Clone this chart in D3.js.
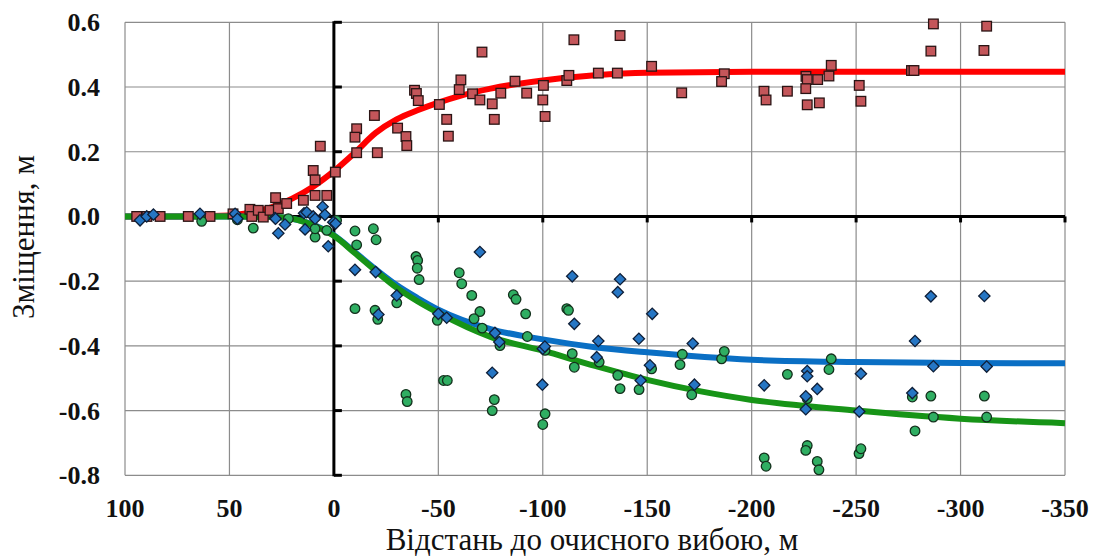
<!DOCTYPE html>
<html>
<head>
<meta charset="utf-8">
<script src="https://cdn.jsdelivr.net/npm/d3@7"></script>
<style>
  body { margin: 0; background: #fff; }
  svg { display: block; }
</style>
</head>
<body>
<svg id="chart"></svg>
<script>
const width = 1094
const height = 556
const serif = "'Liberation Serif', 'Times New Roman', 'DejaVu Serif', serif"

// tick values
const xTicks = [100, 50, 0, -50, -100, -150, -200, -250, -300, -350]
const yTicks = [-0.8, -0.6, -0.4, -0.2, 0.0, 0.2, 0.4, 0.6]

// measured points [distance, displacement]
const redPoints = [[94.4,0.0],[89.5,0.0],[83.2,0.0],[69.7,0.0],[59.3,0.0],[48.3,0.008],[40.2,0.022],[39.3,0.0],[36.2,0.019],[33.8,-0.002],[30.6,0.019],[27.9,0.058],[26.6,0.024],[22.6,0.04],[14.6,0.05],[9.9,0.142],[9.0,0.113],[9.0,0.065],[3.4,0.065],[6.5,0.217],[-0.7,0.137],[-10.9,0.271],[-10.1,0.245],[-10.9,0.197],[-19.4,0.312],[-20.8,0.197],[-30.5,0.273],[-34.5,0.247],[-34.9,0.219],[-38.6,0.39],[-39.5,0.38],[-40.4,0.358],[-50.5,0.346],[-54,0.30],[-54.8,0.248],[-60.8,0.422],[-60.0,0.392],[-66.4,0.379],[-69.9,0.36],[-70.9,0.508],[-75.8,0.348],[-76.8,0.30],[-79.9,0.381],[-86.7,0.418],[-92.3,0.381],[-100.3,0.405],[-100,0.36],[-101.1,0.309],[-111.5,0.42],[-112.5,0.436],[-114.9,0.546],[-126.6,0.443],[-135.7,0.443],[-137,0.559],[-152.1,0.464],[-166.5,0.382],[-186.9,0.441],[-185.6,0.417],[-205.9,0.387],[-206.9,0.36],[-217.1,0.387],[-226,0.433],[-226.6,0.423],[-225.9,0.395],[-226.6,0.345],[-231.6,0.423],[-232.4,0.351],[-237,0.434],[-238.1,0.467],[-251.5,0.405],[-252.3,0.356],[-276.5,0.451],[-277.7,0.451],[-285.8,0.511],[-287,0.595],[-311.2,0.513],[-312.5,0.588]]

const greenPoints = [[63.3,-0.015],[46.2,-0.01],[38.6,-0.036],[21.8,-0.007],[9.0,-0.064],[9.0,-0.038],[3.4,-0.043],[-1.3,-0.012],[-10.1,-0.045],[-10.9,-0.088],[-18.9,-0.038],[-20.2,-0.072],[-10.1,-0.285],[-19.7,-0.29],[-21.0,-0.318],[-30.1,-0.267],[-34.5,-0.55],[-35.1,-0.572],[-39.3,-0.124],[-40.1,-0.136],[-39.9,-0.16],[-40.8,-0.195],[-49.5,-0.321],[-52.5,-0.507],[-54.3,-0.507],[-60.0,-0.174],[-61.2,-0.208],[-66,-0.244],[-69.9,-0.294],[-67.1,-0.316],[-71.0,-0.345],[-79.5,-0.399],[-76.8,-0.566],[-75.8,-0.6],[-85.9,-0.242],[-87.2,-0.256],[-91.8,-0.301],[-92.6,-0.371],[-101.1,-0.414],[-101.1,-0.61],[-100,-0.643],[-111.5,-0.285],[-112.3,-0.29],[-114.1,-0.424],[-115.1,-0.466],[-127,-0.45],[-135.9,-0.491],[-137,-0.532],[-146.1,-0.535],[-152.1,-0.471],[-165.7,-0.458],[-166.8,-0.426],[-171.3,-0.551],[-185.6,-0.44],[-186.9,-0.417],[-206,-0.746],[-206.9,-0.772],[-217.1,-0.488],[-226.6,-0.563],[-226.6,-0.708],[-225.9,-0.723],[-231.4,-0.757],[-232.2,-0.783],[-237,-0.473],[-238.1,-0.44],[-251.4,-0.733],[-252.3,-0.718],[-276.9,-0.558],[-278.2,-0.663],[-285.8,-0.555],[-287,-0.62],[-311.4,-0.555],[-312.5,-0.62]]

const bluePoints = [[92.8,-0.012],[89.6,0.0],[86.4,0.006],[64.1,0.008],[47.3,0.008],[46.2,-0.007],[28.2,-0.005],[27.9,-0.007],[26.6,-0.052],[23.4,-0.025],[14.3,0.01],[13.0,0.013],[13.8,-0.04],[9.9,0.0],[9.0,-0.007],[5.4,0.03],[4.3,0.005],[2.7,-0.092],[0.3,-0.018],[-0.8,-0.022],[-10.1,-0.165],[-20.0,-0.172],[-30.1,-0.244],[-21.3,-0.303],[-50.0,-0.301],[-54,-0.313],[-69.9,-0.11],[-77.1,-0.36],[-79.2,-0.388],[-75.8,-0.483],[-100,-0.409],[-101,-0.402],[-99.8,-0.52],[-114.1,-0.185],[-115.1,-0.332],[-126.6,-0.385],[-125.8,-0.435],[-137,-0.194],[-135.9,-0.234],[-146,-0.378],[-152.4,-0.301],[-151.3,-0.46],[-146.9,-0.507],[-171.8,-0.393],[-172.6,-0.52],[-206,-0.522],[-226.6,-0.478],[-226.6,-0.494],[-225.9,-0.556],[-231.4,-0.533],[-225.9,-0.596],[-252.3,-0.486],[-251.5,-0.603],[-278.2,-0.385],[-276.9,-0.546],[-285.8,-0.247],[-287,-0.463],[-311.4,-0.246],[-312.5,-0.464]]

// fitted curves
const redFit = [[100,0],[75,0],[50,0.003],[40,0.012],[30,0.028],[20,0.055],[10,0.092],[0,0.14],[-10,0.197],[-20,0.258],[-30,0.3],[-40,0.328],[-50,0.352],[-60,0.372],[-75,0.395],[-100,0.42],[-125,0.436],[-150,0.444],[-200,0.447],[-250,0.447],[-300,0.447],[-350,0.447]]
const blueFit = [[100,0],[50,0],[30,-0.002],[20,-0.007],[10,-0.025],[0,-0.058],[-10,-0.11],[-20,-0.163],[-30,-0.212],[-40,-0.252],[-50,-0.288],[-75,-0.348],[-100,-0.38],[-125,-0.404],[-150,-0.42],[-200,-0.443],[-250,-0.45],[-300,-0.453],[-350,-0.454]]
const greenFit = [[100,0],[50,0],[30,-0.002],[20,-0.007],[10,-0.027],[0,-0.06],[-10,-0.113],[-20,-0.168],[-30,-0.22],[-40,-0.262],[-50,-0.298],[-75,-0.372],[-100,-0.415],[-125,-0.462],[-150,-0.505],[-175,-0.54],[-200,-0.567],[-250,-0.6],[-300,-0.625],[-350,-0.639]]

const svg = d3.select('#chart')
  .attr('width', width)
  .attr('height', height)

const x = d3.scaleLinear().domain([100, -350]).range([125, 1065])
const y = d3.scaleLinear().domain([-0.8, 0.6]).range([475.3, 22.3])

// grid
const grid = svg.append('g').attr('stroke', '#8c8c8c').attr('stroke-width', 1.2)
grid.selectAll('.vg').data(xTicks).enter().append('line')
  .attr('x1', d => x(d)).attr('x2', d => x(d))
  .attr('y1', y(0.6)).attr('y2', y(-0.8))
grid.selectAll('.hg').data(yTicks).enter().append('line')
  .attr('x1', x(100)).attr('x2', x(-350))
  .attr('y1', d => y(d)).attr('y2', d => y(d))

// axis lines crossing at zero
const axes = svg.append('g').attr('stroke', '#000').attr('stroke-width', 3)
axes.append('line')
  .attr('x1', x(100)).attr('x2', x(-350))
  .attr('y1', y(0)).attr('y2', y(0))
axes.append('line')
  .attr('x1', x(0)).attr('x2', x(0))
  .attr('y1', y(0.6) - 1).attr('y2', y(-0.8) + 1)
axes.selectAll('.xt').data(xTicks.filter(d => d <= 0)).enter().append('line')
  .attr('x1', d => x(d)).attr('x2', d => x(d))
  .attr('y1', y(0)).attr('y2', y(0) + 6)
axes.selectAll('.yt').data(yTicks).enter().append('line')
  .attr('x1', x(0)).attr('x2', x(0) + 8)
  .attr('y1', d => y(d)).attr('y2', d => y(d))

// tick labels
svg.append('g').selectAll('text').data(yTicks).enter().append('text')
  .style('font-family', serif)
  .style('font-weight', 'bold')
  .style('font-size', '26px')
  .attr('fill', '#111')
  .attr('x', 100)
  .attr('y', d => y(d) + 9)
  .attr('text-anchor', 'end')
  .text(d => d3.format('.1f')(d).replace('−', '-'))

svg.append('g').selectAll('text').data(xTicks).enter().append('text')
  .style('font-family', serif)
  .style('font-weight', 'bold')
  .style('font-size', '26px')
  .attr('fill', '#111')
  .attr('x', d => x(d))
  .attr('y', 517)
  .attr('text-anchor', 'middle')
  .text(d => String(d))

// axis titles
svg.append('text')
  .style('font-family', serif)
  .style('font-size', '31px')
  .attr('fill', '#111')
  .attr('transform', 'translate(34,237) rotate(-90)')
  .attr('text-anchor', 'middle')
  .text('Зміщення, м')

svg.append('text')
  .style('font-family', serif)
  .style('font-size', '31px')
  .attr('fill', '#111')
  .attr('x', 592)
  .attr('y', 550)
  .attr('text-anchor', 'middle')
  .text('Відстань до очисного вибою, м')

// fitted lines
var line = d3.line()
  .x(d => x(d[0]))
  .y(d => y(d[1]))
  .curve(d3.curveMonotoneX)

svg.append('path').datum(redFit)
  .attr('d', line).attr('fill', 'none')
  .attr('stroke', '#ff0000').attr('stroke-width', 6)
svg.append('path').datum(blueFit)
  .attr('d', line).attr('fill', 'none')
  .attr('stroke', '#0a6fc4').attr('stroke-width', 6)
svg.append('path').datum(greenFit)
  .attr('d', line).attr('fill', 'none')
  .attr('stroke', '#179417').attr('stroke-width', 6)

// markers
svg.append('g').selectAll('rect').data(redPoints).enter().append('rect')
  .attr('x', d => x(d[0]) - 4.8)
  .attr('y', d => y(d[1]) - 4.8)
  .attr('width', 9.6).attr('height', 9.6)
  .attr('fill', '#c4565a')
  .attr('stroke', '#2a1414').attr('stroke-width', 1.3)

svg.append('g').selectAll('circle').data(greenPoints).enter().append('circle')
  .attr('cx', d => x(d[0]))
  .attr('cy', d => y(d[1]))
  .attr('r', 4.8)
  .attr('fill', '#2fae62')
  .attr('stroke', '#13301c').attr('stroke-width', 1.3)

svg.append('g').selectAll('rect').data(bluePoints).enter().append('rect')
  .attr('x', -4).attr('y', -4)
  .attr('width', 8).attr('height', 8)
  .attr('transform', d => 'translate(' + x(d[0]) + ',' + y(d[1]) + ') rotate(45)')
  .attr('fill', '#2676c4')
  .attr('stroke', '#0f1f38').attr('stroke-width', 1.3)
</script>
</body>
</html>
